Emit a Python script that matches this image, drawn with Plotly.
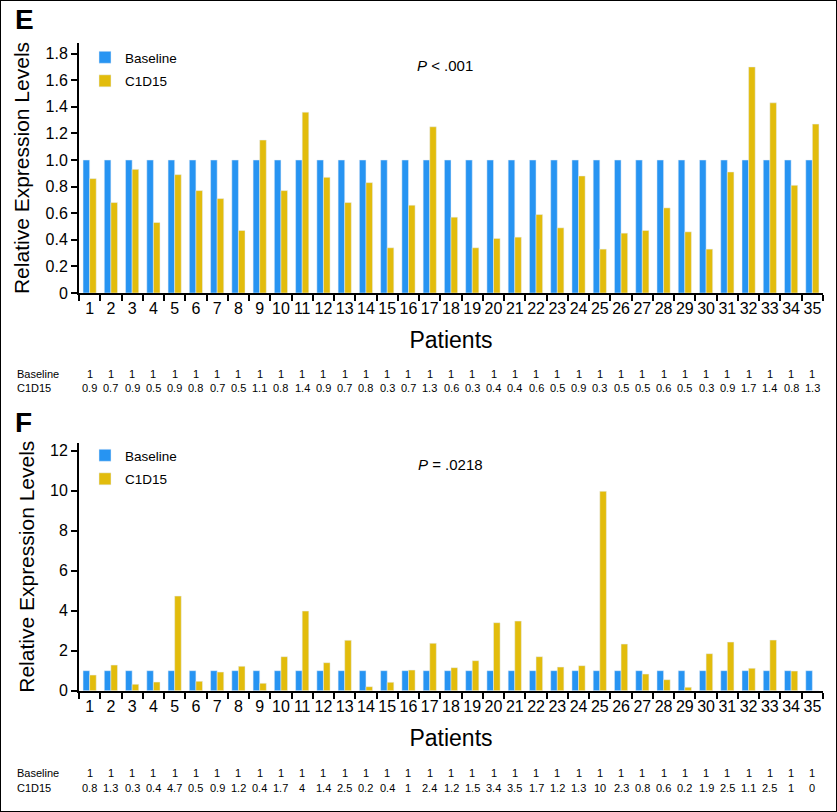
import plotly.graph_objects as go

patients = [str(i) for i in range(1, 36)]

# Panel E values
e_baseline = [1.0] * 35
e_c1d15 = [0.86, 0.68, 0.93, 0.53, 0.89, 0.77, 0.71, 0.47, 1.15, 0.77,
           1.36, 0.87, 0.68, 0.83, 0.34, 0.66, 1.25, 0.57, 0.34, 0.41,
           0.42, 0.59, 0.49, 0.88, 0.33, 0.45, 0.47, 0.64, 0.46, 0.33,
           0.91, 1.70, 1.43, 0.81, 1.27]
e_tab_base = ["1"] * 35
e_tab_c1d15 = ["0.9", "0.7", "0.9", "0.5", "0.9", "0.8", "0.7", "0.5", "1.1", "0.8",
               "1.4", "0.9", "0.7", "0.8", "0.3", "0.7", "1.3", "0.6", "0.3", "0.4",
               "0.4", "0.6", "0.5", "0.9", "0.3", "0.5", "0.5", "0.6", "0.5", "0.3",
               "0.9", "1.7", "1.4", "0.8", "1.3"]

# Panel F values
f_baseline = [1.0] * 35
f_c1d15 = [0.78, 1.28, 0.32, 0.43, 4.73, 0.47, 0.93, 1.22, 0.37, 1.70,
           3.98, 1.40, 2.52, 0.20, 0.42, 1.03, 2.37, 1.15, 1.50, 3.40,
           3.48, 1.70, 1.18, 1.25, 9.97, 2.33, 0.83, 0.55, 0.17, 1.85,
           2.43, 1.12, 2.53, 0.98, 0.0]
f_tab_base = ["1"] * 35
f_tab_c1d15 = ["0.8", "1.3", "0.3", "0.4", "4.7", "0.5", "0.9", "1.2", "0.4", "1.7",
               "4", "1.4", "2.5", "0.2", "0.4", "1", "2.4", "1.2", "1.5", "3.4",
               "3.5", "1.7", "1.2", "1.3", "10", "2.3", "0.8", "0.6", "0.2", "1.9",
               "2.5", "1.1", "2.5", "1", "0"]

e_ticks = [0, 0.2, 0.4, 0.6, 0.8, 1.0, 1.2, 1.4, 1.6, 1.8]
e_ticktext = ["0", "0.2", "0.4", "0.6", "0.8", "1.0", "1.2", "1.4", "1.6", "1.8"]
f_ticks = [0, 2, 4, 6, 8, 10, 12]
f_ticktext = ["0", "2", "4", "6", "8", "10", "12"]

BLUE = "#2794f2"
YELLOW = "#e2bc0c"
FONT = "Liberation Sans, Arial, sans-serif"
W, H = 837, 812

def px_x(v):
    return v / W

def px_y(v):
    return 1 - v / H

fig = go.Figure()
fig.add_trace(go.Bar(x=patients, y=e_baseline, name="Baseline", marker_color=BLUE,
                     xaxis="x", yaxis="y", legend="legend", legendgroup="eb"))
fig.add_trace(go.Bar(x=patients, y=e_c1d15, name="C1D15", marker_color=YELLOW,
                     xaxis="x", yaxis="y", legend="legend", legendgroup="ec"))
fig.add_trace(go.Bar(x=patients, y=f_baseline, name="Baseline", marker_color=BLUE,
                     xaxis="x2", yaxis="y2", legend="legend2", legendgroup="fb"))
fig.add_trace(go.Bar(x=patients, y=f_c1d15, name="C1D15", marker_color=YELLOW,
                     xaxis="x2", yaxis="y2", legend="legend2", legendgroup="fc"))

xdom = [px_x(79), px_x(823)]
e_ydom = [px_y(293), px_y(43)]
f_ydom = [px_y(690.7), px_y(442.7)]

common_x = dict(type="category", showline=True, linecolor="black", linewidth=2,
                ticks="outside", tickson="boundaries", ticklen=6, tickwidth=1.5,
                tickcolor="black", showgrid=False, zeroline=False, tickangle=0,
                automargin=False,
                tickfont=dict(size=16, color="black", family=FONT),
                range=[-0.5, 34.5])
common_y = dict(showline=True, linecolor="black", linewidth=2, ticks="outside",
                ticklen=6, tickwidth=1.5, tickcolor="black", showgrid=False,
                automargin=False,
                zeroline=False, tickfont=dict(size=16, color="black", family=FONT))

fig.update_layout(
    width=W, height=H, margin=dict(l=0, r=0, t=0, b=0, autoexpand=False),
    paper_bgcolor="white", plot_bgcolor="white",
    font=dict(family=FONT, color="black"),
    barmode="group", bargap=0.38, bargroupgap=0,
    xaxis=dict(domain=xdom, anchor="y",
               title=dict(text="Patients", font=dict(size=23), standoff=16),
               **common_x),
    yaxis=dict(domain=e_ydom, anchor="x", range=[0, 1.88], tickvals=e_ticks,
               ticktext=e_ticktext,
               title=dict(text="Relative Expression Levels", font=dict(size=21), standoff=10),
               **common_y),
    xaxis2=dict(domain=xdom, anchor="y2",
                title=dict(text="Patients", font=dict(size=23), standoff=16),
                **common_x),
    yaxis2=dict(domain=f_ydom, anchor="x2", range=[0, 12.4], tickvals=f_ticks,
                ticktext=f_ticktext,
                title=dict(text="Relative Expression Levels", font=dict(size=21), standoff=10),
                **common_y),
    legend=dict(x=px_x(85), y=px_y(42), xanchor="left", yanchor="top",
                font=dict(size=13.5), bgcolor="rgba(0,0,0,0)", tracegroupgap=3,
                itemclick=False),
    legend2=dict(x=px_x(85), y=px_y(440), xanchor="left", yanchor="top",
                 font=dict(size=13.5), bgcolor="rgba(0,0,0,0)", tracegroupgap=3,
                 itemclick=False),
    showlegend=True,
)

ann = []
ann.append(dict(text="<b>E</b>", x=px_x(13), y=px_y(20), xref="paper", yref="paper",
                xanchor="left", yanchor="middle", showarrow=False, font=dict(size=28)))
ann.append(dict(text="<b>F</b>", x=px_x(13), y=px_y(422), xref="paper", yref="paper",
                xanchor="left", yanchor="middle", showarrow=False, font=dict(size=28)))
ann.append(dict(text="<i>P</i> < .001", x=px_x(415), y=px_y(66), xref="paper", yref="paper",
                xanchor="left", yanchor="middle", showarrow=False, font=dict(size=15)))
ann.append(dict(text="<i>P</i> = .0218", x=px_x(416), y=px_y(464), xref="paper", yref="paper",
                xanchor="left", yanchor="middle", showarrow=False, font=dict(size=15)))

def table(xref, y_base, y_c, base_vals, c_vals):
    out = []
    out.append(dict(text="Baseline", x=px_x(15), y=px_y(y_base), xref="paper", yref="paper",
                    xanchor="left", yanchor="middle", showarrow=False, font=dict(size=11)))
    out.append(dict(text="C1D15", x=px_x(15), y=px_y(y_c), xref="paper", yref="paper",
                    xanchor="left", yanchor="middle", showarrow=False, font=dict(size=11)))
    for i, (b, c) in enumerate(zip(base_vals, c_vals)):
        out.append(dict(text=b, x=i, y=px_y(y_base), xref=xref, yref="paper",
                        xanchor="center", yanchor="middle", showarrow=False, font=dict(size=11)))
        out.append(dict(text=c, x=i, y=px_y(y_c), xref=xref, yref="paper",
                        xanchor="center", yanchor="middle", showarrow=False, font=dict(size=11)))
    return out

ann += table("x", 374, 388, e_tab_base, e_tab_c1d15)
ann += table("x2", 773, 788, f_tab_base, f_tab_c1d15)
fig.update_layout(annotations=ann)

fig.add_shape(type="rect", xref="paper", yref="paper", x0=0, y0=0, x1=1, y1=1,
              line=dict(color="black", width=2))

fig.write_html("out.html", config={"displayModeBar": False},
               post_script="document.body.style.margin='0';document.body.style.overflow='hidden';")
